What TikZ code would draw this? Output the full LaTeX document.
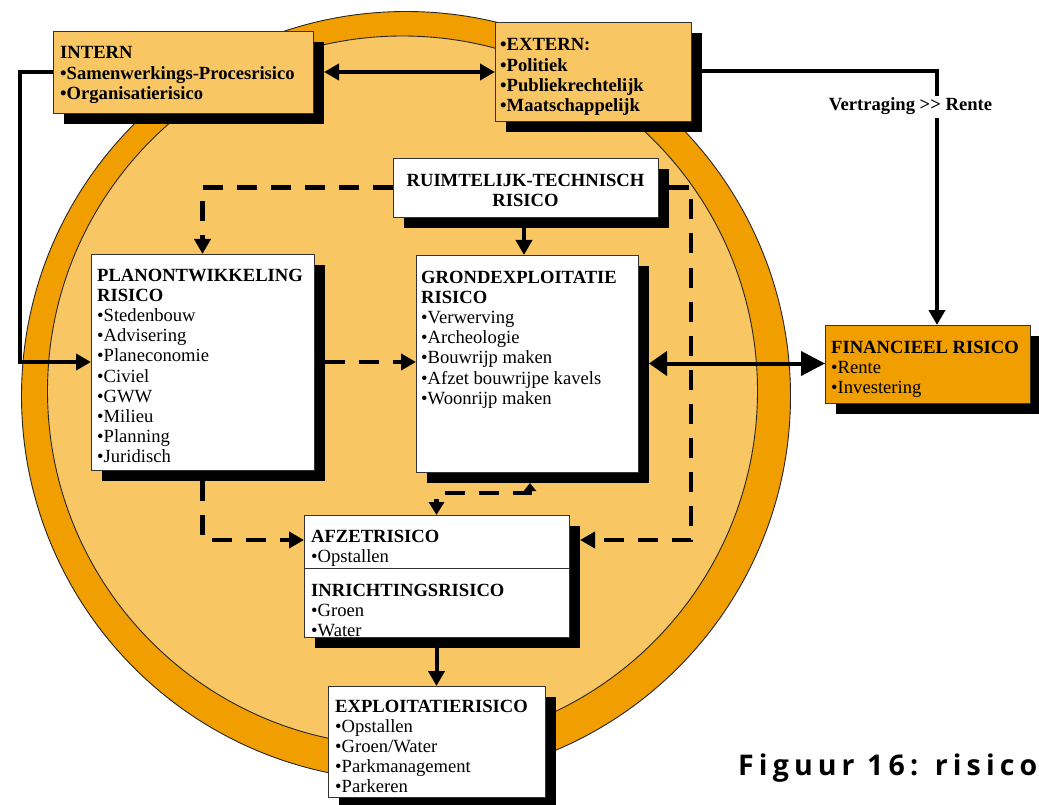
\documentclass[tikz,border=0pt]{standalone}
\usepackage{fontspec}
\setmainfont{Liberation Serif}
\newfontfamily\capfont[LetterSpace=18]{Open Sans}
\usetikzlibrary{arrows.meta,shadows,calc}
\definecolor{ringor}{RGB}{240,158,0}
\definecolor{lightor}{RGB}{248,198,98}
\begin{document}
\begin{tikzpicture}[x=1pt,y=-1pt,
  box/.style={draw=black!80, line width=0.9pt, inner sep=0pt, outer sep=0pt, anchor=north west,
    drop shadow={shadow xshift=11pt, shadow yshift=-11pt, fill=black, opacity=1}},
  txt/.style={anchor=north west, inner sep=0pt, align=left, font=\fontsize{18.6}{20.2}\selectfont},
  conn/.style={line width=4pt, draw=black},
  dsh/.style={line width=4.5pt, draw=black, dash pattern=on 20pt off 14pt},
  >={Triangle[length=15pt,width=16pt]}
]
\useasboundingbox (0,0) rectangle (1039,805);
% ring
\filldraw[fill=ringor, draw=black!85, line width=0.9pt] (406,396) circle[radius=384.5];
\filldraw[fill=lightor, draw=black!85, line width=0.9pt] (402.5,391) circle[radius=355];

% boxes
\node[box, fill=lightor, minimum width=260, minimum height=82] (intern) at (53,31) {};
\node[box, fill=lightor, minimum width=196, minimum height=99] (extern) at (495,22) {};
\node[box, fill=white, minimum width=265, minimum height=59] (ruim) at (393,158) {};
\node[box, fill=white, minimum width=223, minimum height=216] (plan) at (91,254) {};
\node[box, fill=white, minimum width=222, minimum height=217] (grond) at (416,255) {};
\node[box, fill=white, minimum width=265, minimum height=122] (afzet) at (304,515) {};
\node[box, fill=white, minimum width=217, minimum height=111] (expl) at (328,686) {};
\node[box, fill=ringor, minimum width=205, minimum height=78] (fin) at (825,325) {};
\draw[black!80, line width=0.9pt] ($(afzet.north west)+(0,53)$) -- ($(afzet.north east)+(0,53)$);

% texts
\node[txt, font=\bfseries\fontsize{18.6}{20.2}\selectfont] (internT) at (60,46.5)
  {INTERN\\•Samenwerkings-Procesrisico\\•Organisatierisico};
\node[txt, font=\bfseries\fontsize{18.6}{20.2}\selectfont] (externT) at (500,38.5)
  {•EXTERN:\\•Politiek\\•Publiekrechtelijk\\•Maatschappelijk};
\node[txt, anchor=north, align=center, font=\bfseries\fontsize{18.6}{20.2}\selectfont] (ruimT) at (525.5,173.5)
  {RUIMTELIJK-TECHNISCH\\RISICO};
\node[txt] (planT) at (97,268.5)
  {\textbf{PLANONTWIKKELING}\\\textbf{RISICO}\\•Stedenbouw\\•Advisering\\•Planeconomie\\•Civiel\\•GWW\\•Milieu\\•Planning\\•Juridisch};
\node[txt] (grondT) at (421,270.5)
  {\textbf{GRONDEXPLOITATIE}\\\textbf{RISICO}\\•Verwerving\\•Archeologie\\•Bouwrijp maken\\•Afzet bouwrijpe kavels\\•Woonrijp maken};
\node[txt] (afzetT) at (311,529.5)
  {\textbf{AFZETRISICO}\\•Opstallen};
\node[txt] (inrT) at (311,583.5)
  {\textbf{INRICHTINGSRISICO}\\•Groen\\•Water};
\node[txt] (explT) at (335,699.5)
  {\textbf{EXPLOITATIERISICO}\\•Opstallen\\•Groen/Water\\•Parkmanagement\\•Parkeren};
\node[txt] (finT) at (831,340.5)
  {\textbf{FINANCIEEL RISICO}\\•Rente\\•Investering};

% coordinates
\coordinate (rc1) at (691,187.5);
\coordinate (rc2) at (691,540);
\coordinate (lc2) at (202.5,540);
\coordinate (gc1) at (530,493);
\coordinate (grondS) at (530,483);

% solid connectors
\draw[conn, <->] ([xshift=11pt]intern.east) -- (intern.east -| extern.west);
\draw[conn, ->] (intern.west) -| ([xshift=-71pt]plan.west) -- (plan.west);
\draw[conn, ->] ([xshift=11pt]extern.east) -| ([xshift=9.5pt]fin.north);
\draw[conn, {Triangle[length=18pt,width=24pt]}-{Triangle[length=24pt,width=24pt]}]
  ([xshift=11pt]grond.east) -- (grond.east -| fin.west);
\draw[conn, ->] ([xshift=-1.5pt,yshift=-11pt]ruim.south) -- ([xshift=-1.5pt]ruim.south |- grond.north);
\draw[conn, ->] ([yshift=-11pt]afzet.south) -- (expl.north);

% dashed connectors
\draw[dsh, ->] ([xshift=11pt]plan.east) -- (plan.east -| grond.west);
\draw[dsh, ->] (ruim.west) -| (plan.north);
\draw[dsh, ->] ([xshift=11pt]ruim.east) -- (rc1) -- (rc2) -- ($(rc2 -| afzet.east)+(11,0)$);
\draw[dsh, ->] ([yshift=-11pt]plan.south) -- (lc2) -- (lc2 -| afzet.west);
\draw[dsh, {Triangle[length=8pt,width=12pt]}-{Triangle[length=13pt,width=15pt]}] (grondS) -- (gc1) -| (afzet.north);

% label
\node[fill=white, inner xsep=1pt, inner ysep=2.5pt, anchor=base, font=\bfseries\fontsize{18.6}{20.2}\selectfont] (vertr) at (910.5,111) {Vertraging {>}{>} Rente};

% caption
\node[anchor=base west, inner sep=0pt, font=\capfont\bfseries\fontsize{28.5}{30}\selectfont] (cap) at (738,775) {Figuur 16: risico};
\end{tikzpicture}
\end{document}
